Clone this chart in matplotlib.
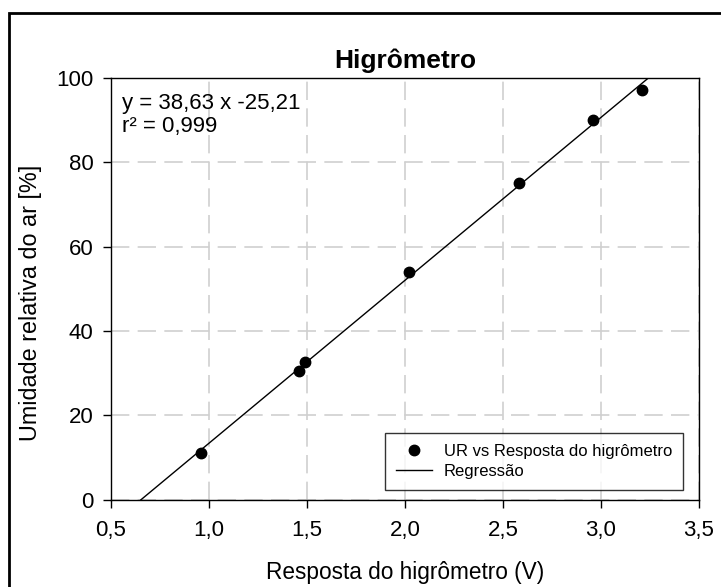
import numpy as np
import matplotlib
matplotlib.use('Agg')
import matplotlib.pyplot as plt
from matplotlib.ticker import FuncFormatter
from matplotlib.patches import Rectangle

plt.rcParams['font.family'] = ['Liberation Sans', 'DejaVu Sans']

# leituras do higrometro
tensao = [0.96, 1.46, 1.49, 2.02, 2.58, 2.96, 3.21]
umidade = [11.2, 30.5, 32.7, 54.0, 75.0, 90.0, 97.1]

# coeficientes da regressao
a = 38.63
b = -25.21
r2 = 0.999

fig = plt.figure(figsize=(7.21, 5.87), dpi=100)
ax = fig.add_axes([0.154, 0.1486, 0.8155, 0.7184])

# moldura em volta da figura
fig.patches.append(Rectangle((9/721, -0.05), 1.2, 0.978 + 0.05, transform=fig.transFigure,
                             fill=False, edgecolor='black', linewidth=2))

xr = np.linspace(0.5, 3.5, 200)
ax.plot(tensao, umidade, 'o', color='black', markersize=7.5, label='UR vs Resposta do higrômetro', zorder=3)
ax.plot(xr, a * xr + b, '-', color='black', linewidth=1, label='Regressão', zorder=2)

ax.set_xlim(0.5, 3.5)
ax.set_ylim(0, 100)
ax.set_xticks(np.arange(0.5, 3.51, 0.5))
ax.set_yticks(np.arange(0, 101, 20))
ax.xaxis.set_major_formatter(FuncFormatter(lambda v, p: ('%.1f' % v).replace('.', ',')))
ax.tick_params(direction='out', length=5.5, width=1, labelsize=16, colors='black')
ax.tick_params(axis='x', pad=9)
ax.tick_params(axis='y', pad=7)
ax.grid(True, color='#cfcfcf', linestyle=(0, (11, 5)), linewidth=1.2)
ax.set_axisbelow(True)
for s in ax.spines.values():
    s.set_linewidth(1)

ax.set_title('Higrômetro', fontsize=19, fontweight='bold', pad=7)
ax.set_xlabel('Resposta do higrômetro (V)', fontsize=16.3)
ax.set_ylabel('Umidade relativa do ar [%]', fontsize=16.8)
ax.xaxis.set_label_coords(0.5, -0.145)
ax.yaxis.set_label_coords(-0.117, 0.468)

eq = 'y = %s x %s\nr² = %s' % (('%.2f' % a).replace('.', ','),
                                 ('%.2f' % b).replace('.', ','),
                                 ('%.3f' % r2).replace('.', ','))
ax.text(0.019, 0.965, eq, transform=ax.transAxes, fontsize=16, va='top', ha='left',
        linespacing=1.15)

leg = ax.legend(loc='lower right', bbox_to_anchor=(0.973, 0.023), borderaxespad=0,
                fontsize=12, frameon=True, fancybox=False, edgecolor='black',
                handlelength=2.2, handletextpad=0.7, borderpad=0.65, labelspacing=0.3)
leg.get_frame().set_linewidth(1)

fig.savefig('out.png', dpi=100)
